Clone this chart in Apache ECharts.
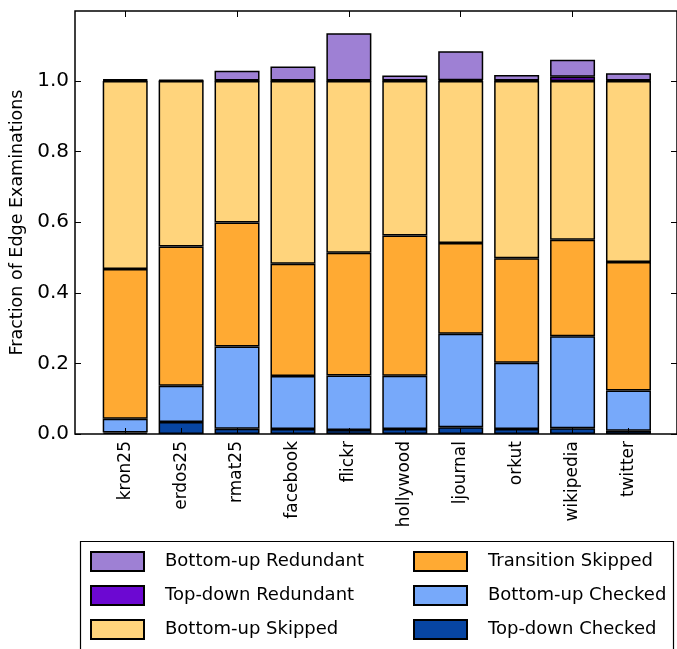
<!DOCTYPE html>
<html>
<head>
<meta charset="utf-8">
<script src="https://cdn.jsdelivr.net/npm/echarts@6/dist/echarts.min.js"></script>
<style>html,body{margin:0;padding:0;background:#fff;}#c{width:677px;height:649px;}</style>
</head>
<body>
<div id="c"></div>
<script>
const categories = ['kron25','erdos25','rmat25','facebook','flickr','hollywood','ljournal','orkut','wikipedia','twitter'];
const topDownChecked      = [0.004, 0.034, 0.015, 0.014, 0.011, 0.014, 0.019, 0.014, 0.016, 0.009];
const bottomUpChecked     = [0.039, 0.103, 0.233, 0.150, 0.155, 0.151, 0.265, 0.188, 0.261, 0.114];
const transitionSkipped   = [0.424, 0.394, 0.351, 0.318, 0.347, 0.397, 0.257, 0.296, 0.273, 0.364];
const bottomUpSkipped     = [0.533, 0.469, 0.401, 0.518, 0.487, 0.438, 0.459, 0.502, 0.450, 0.513];
const topDownRedundant    = [0.002, 0.001, 0.001, 0.001, 0.001, 0.001, 0.002, 0.001, 0.012, 0.001];
const bottomUpRedundant   = [0.002, 0.002, 0.028, 0.040, 0.134, 0.014, 0.082, 0.016, 0.048, 0.021];
const yTicks = [0, 0.2, 0.4, 0.6, 0.8, 1.0];

const seriesDefs = [
  {name: 'Top-down Checked', data: topDownChecked, color: '#0745a2'},
  {name: 'Bottom-up Checked', data: bottomUpChecked, color: '#77a9fa'},
  {name: 'Transition Skipped', data: transitionSkipped, color: '#ffaa33'},
  {name: 'Bottom-up Skipped', data: bottomUpSkipped, color: '#ffd47c'},
  {name: 'Top-down Redundant', data: topDownRedundant, color: '#6c08d2'},
  {name: 'Bottom-up Redundant', data: bottomUpRedundant, color: '#9e80d4'}
];

const FONT = 'DejaVu Sans';
const YMAX = 1.198;
const chart = echarts.init(document.getElementById('c'), null, {renderer: 'canvas'});

const legendCommon = {
  orient: 'vertical', icon: 'rect', itemWidth: 53, itemHeight: 19, itemGap: 13,
  padding: 0, selectedMode: false,
  textStyle: {fontFamily: FONT, fontSize: 18, color: '#000', lineHeight: 19, padding: [0, 0, 0, 16]}
};

chart.setOption({
  animation: false,
  backgroundColor: '#fff',
  grid: [
    {left: 75, top: 11, width: 602, height: 423, show: true, borderColor: '#000', borderWidth: 1.5, backgroundColor: 'transparent', z: 6},
    {left: 97.24, top: 11, width: 559.2, height: 423}
  ],
  xAxis: [
    {type: 'value', gridIndex: 0, min: 0, max: 1, show: false},
    {type: 'category', gridIndex: 1, data: categories, position: 'bottom', z: 5,
     axisLine: {show: false},
     axisTick: {show: true, inside: true, length: 6, alignWithLabel: true, lineStyle: {color: '#000', width: 1}},
     axisLabel: {show: true, rotate: 90, margin: 7, fontFamily: FONT, fontSize: 17, color: '#000', interval: 0},
     splitLine: {show: false}},
    {type: 'category', gridIndex: 1, data: categories, position: 'top', z: 5,
     axisLine: {show: false},
     axisTick: {show: true, inside: true, length: 6, alignWithLabel: true, lineStyle: {color: '#000', width: 1}},
     axisLabel: {show: false}, splitLine: {show: false}}
  ],
  yAxis: [
    {type: 'value', gridIndex: 0, min: 0, max: YMAX, position: 'left', z: 5,
     name: 'Fraction of Edge Examinations', nameLocation: 'middle', nameGap: 48, nameRotate: 90,
     nameTextStyle: {fontFamily: FONT, fontSize: 17.5, color: '#000'},
     axisLine: {show: false},
     axisTick: {show: true, inside: true, length: 6, customValues: yTicks, lineStyle: {color: '#000', width: 1}},
     axisLabel: {show: true, customValues: yTicks, margin: 6, fontFamily: FONT, fontSize: 20, color: '#000',
                 formatter: v => v.toFixed(1)},
     splitLine: {show: false}},
    {type: 'value', gridIndex: 0, min: 0, max: YMAX, position: 'right', z: 5,
     axisLine: {show: false},
     axisTick: {show: true, inside: true, length: 6, customValues: yTicks, lineStyle: {color: '#000', width: 1}},
     axisLabel: {show: false}, splitLine: {show: false}},
    {type: 'value', gridIndex: 1, min: 0, max: YMAX, show: false}
  ],
  legend: [
    Object.assign({left: 90, top: 551, data: ['Bottom-up Redundant', 'Top-down Redundant', 'Bottom-up Skipped']}, legendCommon),
    Object.assign({left: 413, top: 551, data: ['Transition Skipped', 'Bottom-up Checked', 'Top-down Checked']}, legendCommon)
  ],
  graphic: [
    {type: 'rect', shape: {x: 80.5, y: 541.5, width: 593, height: 130}, style: {fill: 'none', stroke: '#000', lineWidth: 1.2}, z: 10}
  ],
  series: seriesDefs.map(s => ({
    type: 'bar', name: s.name, stack: 'total', barWidth: 45,
    xAxisIndex: 1, yAxisIndex: 2,
    itemStyle: {color: s.color, borderColor: '#000', borderWidth: 1.5},
    data: s.data
  }))
});
</script>
</body>
</html>
